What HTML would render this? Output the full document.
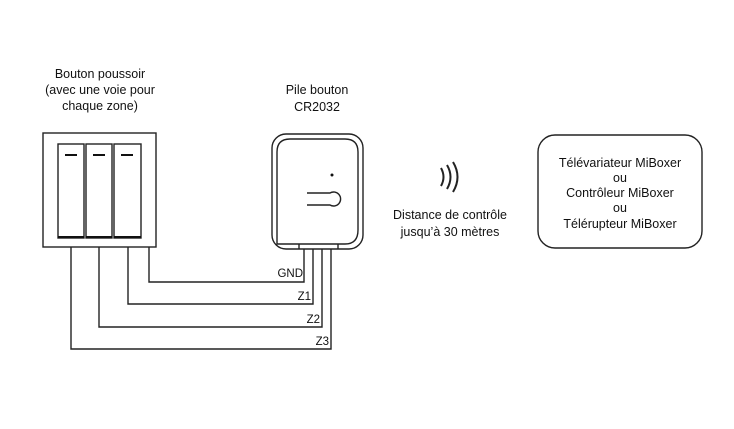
<!DOCTYPE html>
<html><head><meta charset="utf-8"><style>
html,body{margin:0;padding:0;background:#fff;width:734px;height:429px;overflow:hidden}
text{font-family:"Liberation Sans",sans-serif;fill:#111}
</style></head><body>
<svg width="734" height="429" viewBox="0 0 734 429" xmlns="http://www.w3.org/2000/svg">
<g font-size="12.5" text-anchor="middle">
<text x="100" y="78">Bouton poussoir</text>
<text x="100" y="94">(avec une voie pour</text>
<text x="100" y="110">chaque zone)</text>
<text x="317" y="94">Pile bouton</text>
<text x="317" y="111">CR2032</text>
<text x="450" y="219">Distance de contrôle</text>
<text x="450" y="236">jusqu’à 30 mètres</text>
<text x="620" y="167">Télévariateur MiBoxer</text>
<text x="620" y="182">ou</text>
<text x="620" y="197">Contrôleur MiBoxer</text>
<text x="620" y="212">ou</text>
<text x="620" y="228">Télérupteur MiBoxer</text>
</g>
<g fill="none" stroke="#222" stroke-width="1.4">
<rect x="43" y="133" width="113" height="114"/>
<rect x="58" y="144" width="26" height="94"/>
<rect x="86" y="144" width="26" height="94"/>
<rect x="114" y="144" width="27" height="94"/>
<path d="M71 247V349H331V249M99 247V327H322V249M128 247V304H313V249M149 247V282H304V249"/>
<rect x="272" y="134" width="91" height="115" rx="14"/>
<path d="M299 249V244H277Q277 244 277 230V152Q277 139 290 139H345Q358 139 358 152V230Q358 244 345 244H338V249M299 244H338"/>
<path d="M307 193H330A7 7 0 1 1 330 205H307"/>
<rect x="538" y="135" width="164" height="113" rx="17"/>
<path d="M441 168Q446 177 441 186M447 165Q454 177 447 189M453 162Q462 177 453 192" stroke-width="2"/>
</g>
<g fill="#111">
<rect x="65" y="154" width="12" height="2"/><rect x="93" y="154" width="12" height="2"/><rect x="121" y="154" width="12" height="2"/>
<rect x="58" y="236" width="26" height="2"/><rect x="86" y="236" width="26" height="2"/><rect x="114" y="236" width="27" height="2"/>
<circle cx="332" cy="175" r="1.5"/>
</g>
<g font-size="11.5" text-anchor="end">
<text x="303" y="277">GND</text>
<text x="311" y="300">Z1</text>
<text x="320" y="323">Z2</text>
<text x="329" y="345">Z3</text>
</g>
</svg>
</body></html>
